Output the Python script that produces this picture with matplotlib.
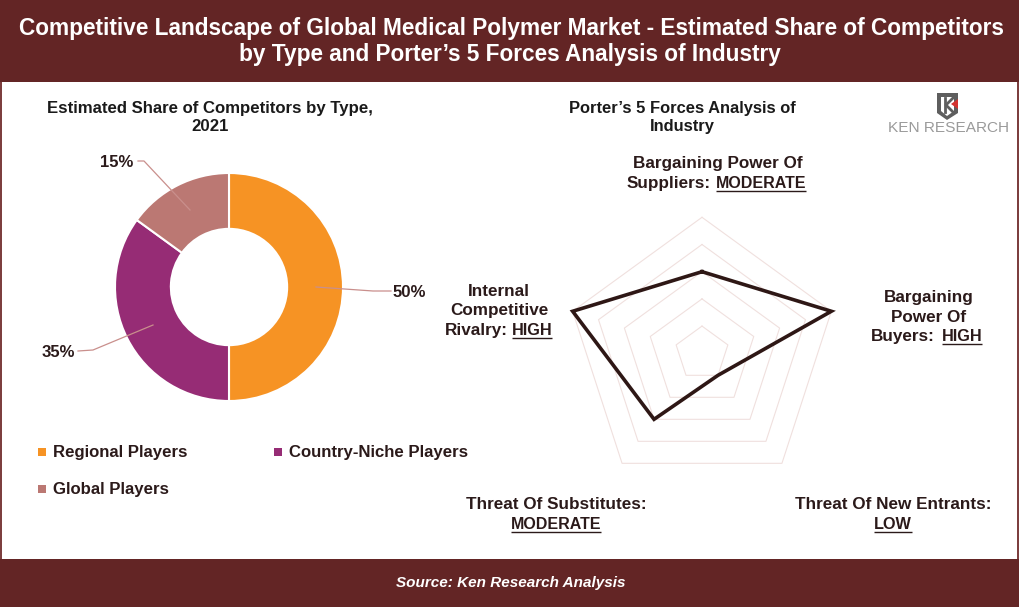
import matplotlib
matplotlib.use("Agg")
import numpy as np
import matplotlib.pyplot as plt
from matplotlib.patches import Rectangle, Polygon

plt.rcParams['font.family'] = ['Liberation Sans', 'DejaVu Sans']

TITLE_LINES = ["Competitive Landscape of Global Medical Polymer Market - Estimated Share of Competitors",
               "by Type and Porter’s 5 Forces Analysis of Industry"]
SOURCE = "Source: Ken Research Analysis"
DONUT_TITLE = "Estimated Share of Competitors by Type,\n2021"
RADAR_TITLE = "Porter’s 5 Forces Analysis of\nIndustry"
players = ["Regional Players", "Country-Niche Players", "Global Players"]
shares = [50, 35, 15]
player_colors = ["#F69324", "#962C75", "#BB7873"]
forces = ["Suppliers", "Buyers", "New Entrants", "Substitutes", "Rivalry"]
force_scores = [3, 5, 1, 3, 5]
ring_levels = [1, 2, 3, 4, 5]

W, H = 1024, 607
DARK = "#632525"
INK = "#2B1A1A"
LS = 12.3
fig = plt.figure(figsize=(W/100, H/100), dpi=100)
bg = fig.add_axes([0, 0, 1, 1], zorder=0)
bg.set_xlim(0, W); bg.set_ylim(H, 0); bg.axis("off")
bg.add_patch(Rectangle((0.7, 0.7), 1017.6, 605, fc="white", ec="#7A3A3A", lw=1.4))
bg.add_patch(Rectangle((0, 0), 1019, 82, fc=DARK, ec="none"))
bg.add_patch(Rectangle((0, 559), 1019, 48, fc=DARK, ec="none"))

top = fig.add_axes([0, 0, 1, 1], zorder=3)
top.set_xlim(0, W); top.set_ylim(H, 0); top.axis("off")
top.patch.set_visible(False)

top.text(511, 29, TITLE_LINES[0], color="white", fontsize=16.3, fontweight="bold", ha="center", va="center")
top.text(510, 55, TITLE_LINES[1], color="white", fontsize=16.3, fontweight="bold", ha="center", va="center")
top.text(511, 583, SOURCE, color="white", fontsize=11, fontweight="bold", style="italic", ha="center", va="center")
top.text(210, 117.5, DONUT_TITLE, color="#1A1A1A", fontsize=12.1, fontweight="bold", ha="center", va="center", linespacing=1.3)
top.text(682, 117.5, RADAR_TITLE, color="#1A1A1A", fontsize=11.9, fontweight="bold", ha="center", va="center", linespacing=1.3)


def under(x, y, s, size=LS):
    t = top.text(x, y + 0.5, s, color=INK, fontsize=size, fontweight="bold", ha="center", va="center")
    fig.canvas.draw()
    b = t.get_window_extent()
    top.plot([b.x0, b.x1], [y + 8.3, y + 8.3], color=INK, lw=1.0, solid_capstyle="butt")


def lab(x, y, s, size=LS, ha="center"):
    top.text(x, y + 0.5, s, color=INK, fontsize=size, fontweight="bold", ha=ha, va="center")


lab(718, 163, "Bargaining Power Of")
lab(711, 183, "Suppliers:", ha="right")
under(761, 183, "MODERATE", 11.5)
lab(929, 297, "Bargaining")
lab(929, 317, "Power Of")
lab(935, 336, "Buyers:", ha="right")
under(962, 336, "HIGH", 11.7)
lab(499, 291, "Internal")
lab(499, 310, "Competitive")
lab(508, 330, "Rivalry:", ha="right")
under(532, 330, "HIGH", 11.7)
lab(556, 504, "Threat Of Substitutes:")
under(556, 524, "MODERATE", 11.5)
lab(893, 504, "Threat Of New Entrants:")
under(893, 524, "LOW", 11.7)

# logo
top.add_patch(Polygon([[937, 93], [958, 93], [958, 113], [947, 120], [937, 113]], closed=True, fc="#5E5E5E", ec="none"))
top.add_patch(Polygon([[941, 97], [954, 97], [954, 111], [947, 116], [941, 111]], closed=True, fc="white", ec="none"))
top.plot([945, 945], [98, 112], color="#5E5E5E", lw=2)
top.plot([953, 946, 953], [98, 105, 112], color="#5E5E5E", lw=2)
top.add_patch(Polygon([[958, 99], [958, 109], [951, 104]], closed=True, fc="#D3322F", ec="none"))
top.text(949, 128, "KEN RESEARCH", color="#9A9A9A", fontsize=11.1, ha="center", va="center")

# donut
cx, cy, R = 229, 287, 114
ax = fig.add_axes([(cx-R)/W, 1-(cy+R)/H, 2*R/W, 2*R/H], zorder=1)
ax.pie(shares, colors=player_colors, startangle=90, counterclock=False, radius=1,
       wedgeprops=dict(width=0.49, edgecolor="white", linewidth=1.5))
ax.set_xlim(-1, 1); ax.set_ylim(-1, 1)

for (x, y, s, pts) in [(409, 292, "50%", [(316, 287), (373, 291), (391, 291)]),
                       (58, 352, "35%", [(153, 325), (93, 350), (78, 351)]),
                       (117, 162, "15%", [(190, 210), (144, 161), (138, 161)])]:
    lab(x, y, s, 12.1)
    top.plot(*zip(*pts), color="#C98F8C", lw=0.9)

# legend
for (x, y, s, c) in [(43, 452, players[0], player_colors[0]),
                     (279, 452, players[1], player_colors[1]),
                     (43, 489, players[2], player_colors[2])]:
    top.add_patch(Rectangle((x-5, y-4), 8, 8, fc=c, ec="none"))
    top.text(x+10, y+0.5, s, color=INK, fontsize=12.1, fontweight="bold", ha="left", va="center")

# radar
rx, ry, rr = 702, 353.3, 136
pol = fig.add_axes([(rx-rr)/W, 1-(ry+rr)/H, 2*rr/W, 2*rr/H], projection="polar", zorder=2)
pol.set_theta_zero_location("N"); pol.set_theta_direction(-1)
theta = np.linspace(0, 2*np.pi, len(forces), endpoint=False)
tc = np.r_[theta, theta[0]]
for lv in ring_levels:
    pol.plot(tc, [lv]*len(tc), color="#F0E0DE", lw=0.8, clip_on=False)
pol.plot(tc, force_scores + force_scores[:1], color="#2E1715", lw=2.6, clip_on=False, solid_joinstyle="miter")
pol.set_ylim(0, 5)
pol.axis("off")
pol.patch.set_visible(False)

fig.savefig("out.png", dpi=100)
